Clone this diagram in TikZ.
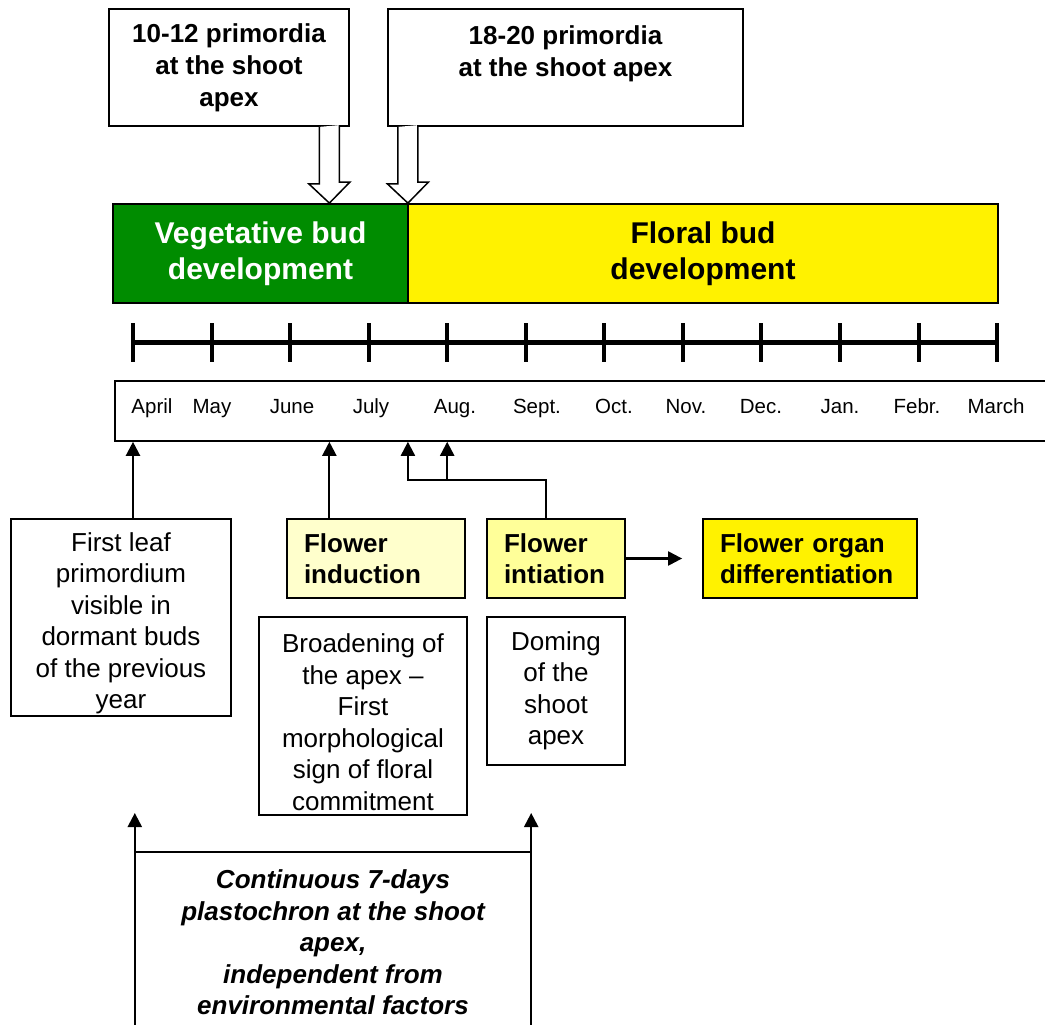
\documentclass[tikz,border=0pt]{standalone}
\usepackage{fontspec}
\setmainfont{Liberation Sans}
\usetikzlibrary{arrows.meta}
\usetikzlibrary{calc}

\definecolor{vegGreen}{RGB}{0,140,0}
\definecolor{paleYellow}{RGB}{255,255,204}
\definecolor{lightYellow}{RGB}{255,255,153}

\begin{document}
\begin{tikzpicture}[x=1pt, y=-1pt,
        box/.style={draw, line width=1.8pt, inner sep=0pt},
        txt/.style={font=\fontsize{26}{31.5}\selectfont, align=center, inner sep=0pt},
        boldtxt/.style={txt, font=\fontsize{26}{32}\selectfont\bfseries},
        bartxt/.style={txt, font=\fontsize{30}{36}\selectfont\bfseries},
        stage/.style={box, font=\fontsize{26}{31}\selectfont\bfseries, align=left,
            inner xsep=17pt, minimum height=79pt},
        month/.style={anchor=base, inner sep=0pt, font=\fontsize{20.5}{24}\selectfont},
        conn/.style={line width=2.2pt, -{Triangle[width=14pt,length=14pt]}},
        hollow/.style={draw, fill=white, line width=1.5pt, line join=miter}]
    \useasboundingbox (0,0) rectangle (1045,1025);
    \clip (0,0) rectangle (1045,1025);

    % primordia boxes
    \node [box, boldtxt, minimum width=240, minimum height=117] (topa) at (229,67.5)
        {10-12 primordia\\at the shoot\\apex};
    \node [box, boldtxt, minimum width=355, minimum height=117] (topb) at (565.5,67.5)
        {18-20 primordia\\at the shoot apex\\~};

    % bud development bars
    \node [box, bartxt, fill=vegGreen, text=white, minimum width=295, minimum height=99]
        (veg) at (260.5,253.5) {Vegetative bud\\development};
    \node [box, bartxt, fill=yellow, minimum width=590, minimum height=99]
        (flo) at (703,253.5) {Floral bud\\development};

    % time axis
    \foreach \i in {0,...,11}
        \coordinate (t\i) at ({133+78.55*\i},342);
    \coordinate (xind) at ($(t2)!.5!(t3)$);
    \coordinate (xini) at ($(t3)!.5!(t4)$);
    \draw [line width=5pt] (t0) -- (t11);
    \foreach \i in {0,...,11}
        \draw [line width=4pt] ($(t\i)+(0,-19)$) -- ($(t\i)+(0,20)$);

    % hollow arrows
    \foreach \x/\b in {xind/topa, xini/topb}
        \draw [hollow] ($(\b.south -| \x)+(-10,0)$) -- ++(0,57) -- ++(-10.5,0)
            -- ($(veg.north -| \x)$) -- ++(20.5,-21) -- ++(-10.5,0) -- ++(0,-57);

    % months
    \node [box, anchor=north west, minimum width=960, minimum height=60] (months) at (114,380) {};
    \foreach \m/\x in {April/152, May/212, June/292, July/371, Aug./455, Sept./537,
            Oct./614, Nov./686, Dec./761, Jan./840, Febr./917, March/996}
        \node [month] at (\x,413) {\m};

    % stages
    \node [box, minimum width=220, minimum height=197] (leaf) at (121,617.5) {};
    \node [txt] at ([yshift=-6pt]leaf.center)
        {First leaf\\primordium\\visible in\\dormant buds\\of the previous\\year};
    \node [stage, fill=paleYellow, text width=144] (ind) at (376,558.5) {Flower\\induction};
    \node [stage, fill=lightYellow, text width=104] (ini) at (556,558.5) {Flower\\intiation};
    \node [stage, fill=yellow, text width=180] (organ) at (810,558.5) {Flower organ\\differentiation};
    \node [box, minimum width=208, minimum height=198] (broad) at (363,716) {};
    \node [txt] at ([yshift=-6pt]broad.center)
        {Broadening of\\the apex --\\First\\morphological\\sign of floral\\commitment};
    \node [box, txt, minimum width=138, minimum height=148] (doming) at (556,691)
        {Doming\\of the\\shoot\\apex};

    % links to the months
    \draw [conn] (leaf.north -| t0) -- (months.south -| t0);
    \draw [conn] (ind.north -| xind) -- (months.south -| xind);
    \coordinate (inix) at ($(ini.north)+(-10,0)$);
    \coordinate (elbow) at ($(inix)+(0,-38)$);
    \draw [conn] (inix) -- (elbow) -- (elbow -| xini) -- (months.south -| xini);
    \draw [conn] (elbow -| t4) -- (months.south -| t4);
    \draw [conn] (ini.east) -- ([xshift=-20pt]organ.west);

    % plastochron
    \node [inner sep=0pt, align=center, font=\fontsize{26}{31.5}\selectfont\bfseries\itshape,
        minimum width=396, minimum height=180, anchor=north] (plasto) at (333,852)
        {Continuous 7-days\\plastochron at the shoot\\apex,\\independent from\\environmental factors};
    \draw [line width=2.2pt] (plasto.north west) -- (plasto.north east);
    \draw [conn] (plasto.south west) -- ($(plasto.north west)+(0,-39)$);
    \draw [conn] (plasto.south east) -- ($(plasto.north east)+(0,-39)$);
\end{tikzpicture}
\end{document}
